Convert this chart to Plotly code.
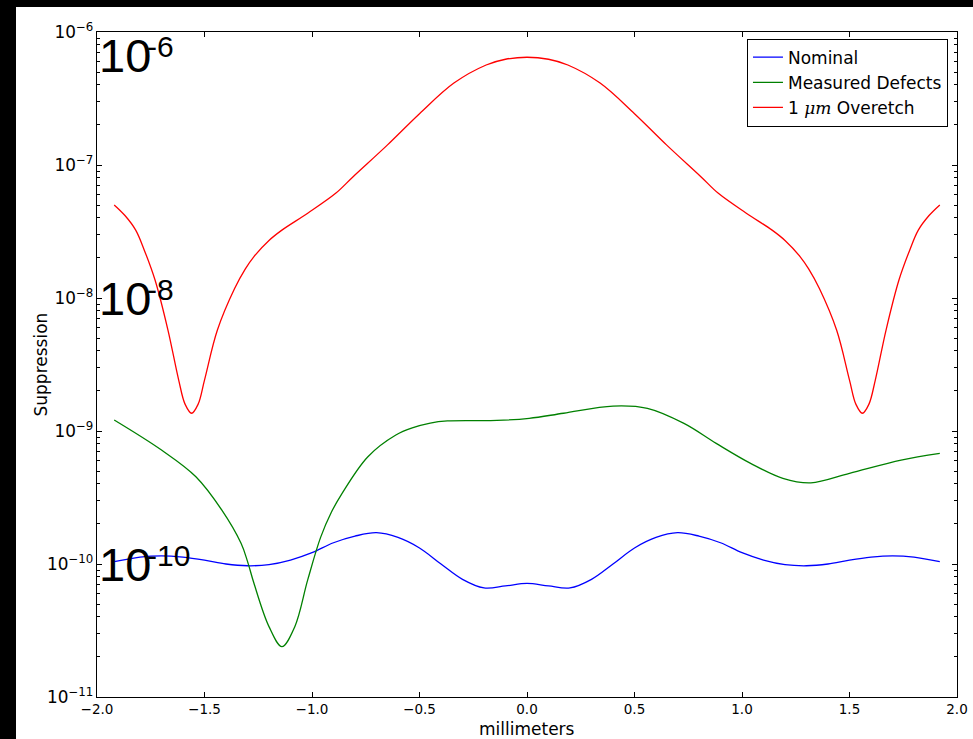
import plotly.graph_objects as go

# Suppression versus position across the aperture (millimeters)
x_nominal = [-1.92, -1.8, -1.7, -1.6, -1.5, -1.4, -1.3, -1.2, -1.1, -1.0,
             -0.9, -0.8, -0.7, -0.6, -0.5, -0.4, -0.3, -0.2, -0.1, 0.0,
             0.1, 0.2, 0.3, 0.4, 0.5, 0.6, 0.7, 0.8, 0.9, 1.0,
             1.1, 1.2, 1.3, 1.4, 1.5, 1.6, 1.7, 1.8, 1.92]
y_nominal = [1.04e-10, 1.127e-10, 1.153e-10, 1.127e-10, 1.07e-10, 1.0e-10, 9.7e-11, 9.89e-11,
             1.07e-10, 1.216e-10, 1.445e-10, 1.62e-10, 1.72e-10, 1.585e-10, 1.32e-10, 1.0e-10,
             7.67e-11, 6.61e-11, 6.84e-11, 7.16e-11,
             6.84e-11, 6.61e-11, 7.67e-11, 1.0e-10, 1.32e-10, 1.585e-10, 1.72e-10, 1.62e-10,
             1.445e-10, 1.216e-10, 1.07e-10, 9.89e-11, 9.7e-11, 1.0e-10, 1.07e-10, 1.127e-10,
             1.153e-10, 1.127e-10, 1.04e-10]

x_defects = [-1.92, -1.70, -1.54, -1.42, -1.33, -1.30, -1.27, -1.20, -1.14, -1.08,
             -1.02, -0.96, -0.91, -0.86, -0.74, -0.61, -0.53, -0.45, -0.37, -0.14,
             0.01, 0.17, 0.40, 0.56, 0.73, 0.88, 1.04, 1.19, 1.32, 1.50,
             1.74, 1.92]
y_defects = [1.21e-9, 7.19e-10, 4.53e-10, 2.55e-10, 1.43e-10, 1.047e-10, 7.16e-11, 3.38e-11,
             2.39e-11, 3.38e-11, 7.59e-11, 1.585e-10, 2.45e-10, 3.40e-10, 6.41e-10, 9.33e-10,
             1.06e-9, 1.148e-9, 1.19e-9, 1.20e-9, 1.245e-9, 1.36e-9, 1.54e-9, 1.48e-9,
             1.14e-9, 8.07e-10, 5.71e-10, 4.41e-10, 4.08e-10, 4.81e-10, 6.05e-10, 6.79e-10]

x_overetch = [-1.92, -1.87, -1.82, -1.78, -1.73, -1.67, -1.62, -1.59, -1.56, -1.53,
              -1.50, -1.44, -1.36, -1.31, -1.27, -1.20, -1.14, -1.02, -0.89, -0.81,
              -0.65, -0.50, -0.34, -0.19, -0.10, 0.00, 0.10, 0.19, 0.34, 0.50,
              0.65, 0.81, 0.89, 1.02, 1.14, 1.20, 1.27, 1.31, 1.36, 1.44,
              1.50, 1.53, 1.56, 1.59, 1.62, 1.67, 1.73, 1.78, 1.82, 1.87,
              1.92]
y_overetch = [5.01e-8, 4.17e-8, 3.24e-8, 2.29e-8, 1.365e-8, 5.74e-9, 2.415e-9, 1.585e-9,
              1.36e-9, 1.585e-9, 2.415e-9, 5.74e-9, 1.178e-8, 1.656e-8, 2.05e-8, 2.71e-8,
              3.24e-8, 4.34e-8, 6.12e-8, 8.13e-8, 1.41e-7, 2.43e-7, 4.13e-7, 5.65e-7,
              6.24e-7, 6.46e-7, 6.24e-7, 5.65e-7, 4.13e-7, 2.43e-7, 1.41e-7, 8.13e-8,
              6.12e-8, 4.34e-8, 3.24e-8, 2.71e-8, 2.05e-8, 1.656e-8, 1.178e-8, 5.74e-9,
              2.415e-9, 1.585e-9, 1.36e-9, 1.585e-9, 2.415e-9, 5.74e-9, 1.365e-8, 2.29e-8,
              3.24e-8, 4.17e-8, 5.01e-8]

x_ticks = [-2.0, -1.5, -1.0, -0.5, 0.0, 0.5, 1.0, 1.5, 2.0]
decade_marks = [-6, -8, -10]          # large in-plot decade labels
decade_label_y = [-6.173, -8, -10]    # vertical placement of each label (log10 units)

FONT = "DejaVu Sans"
BIG = "Liberation Sans"

fig = go.Figure()
series = [
    ("Nominal", x_nominal, y_nominal, "#0000ff"),
    ("Measured Defects", x_defects, y_defects, "#008000"),
    ("1 <i><span style=\"font-family:'DejaVu Serif'\">μm</span></i> Overetch",
     x_overetch, y_overetch, "#ff0000"),
]
for name, xs, ys, color in series:
    fig.add_trace(go.Scatter(
        x=xs, y=ys, name=name, mode="lines",
        line=dict(color=color, width=1.3, shape="spline", smoothing=1.0),
    ))

for exp, ypos in zip(decade_marks, decade_label_y):
    fig.add_annotation(x=-2.0, y=ypos, xref="x", yref="y", text="10",
                       showarrow=False, xanchor="left", yanchor="middle",
                       font=dict(family=BIG, size=47, color="black"))
    fig.add_annotation(x=-2.0, y=ypos, xref="x", yref="y", text=f"-{abs(exp)}",
                       showarrow=False, xanchor="left", yanchor="middle",
                       xshift=48, yshift=9,
                       font=dict(family=BIG, size=30, color="black"))

# axis titles
fig.add_annotation(x=0.5, y=(697 - 729) / 665, xref="paper", yref="paper",
                   text="millimeters", showarrow=False, xanchor="center", yanchor="middle",
                   font=dict(family=FONT, size=17, color="black"))
fig.add_annotation(x=(40 - 97) / 860, y=0.5, xref="paper", yref="paper",
                   text="Suppression", showarrow=False, textangle=-90,
                   xanchor="center", yanchor="middle",
                   font=dict(family=FONT, size=17, color="black"))

# dark frame strips along the top and left edges of the page
fig.add_shape(type="rect", xref="paper", yref="paper",
              x0=-0.2, x1=(16 - 97) / 860, y0=-0.2, y1=1.2,
              fillcolor="black", line_width=0, layer="above")
fig.add_shape(type="rect", xref="paper", yref="paper",
              x0=-0.2, x1=1.2, y0=(697 - 7) / 665, y1=1.2,
              fillcolor="black", line_width=0, layer="above")

axis_common = dict(
    showline=True, linecolor="black", linewidth=1, mirror="ticks",
    ticks="inside", tickcolor="black", showgrid=False, zeroline=False,
    automargin=False,
    tickfont=dict(family=FONT, size=13.5, color="black"),
)
fig.update_xaxes(range=[-2, 2], tickvals=x_ticks, tickformat=".1f", ticklen=5, **axis_common)
fig.update_yaxes(
    type="log", range=[-11, -6], dtick=1, exponentformat="power", ticklen=5,
    minor=dict(ticks="inside", ticklen=3, tickcolor="black", showgrid=False),
    **axis_common,
)

fig.update_layout(
    width=973, height=739,
    margin=dict(l=97, r=16, t=32, b=42),
    paper_bgcolor="white", plot_bgcolor="white",
    font=dict(family=FONT, color="black"),
    legend=dict(
        x=0.9895, y=0.99, xanchor="right", yanchor="top",
        bgcolor="white", bordercolor="black", borderwidth=1,
        font=dict(family=FONT, size=17, color="black"),
        tracegroupgap=0,
    ),
)

fig.write_html("out.html")
